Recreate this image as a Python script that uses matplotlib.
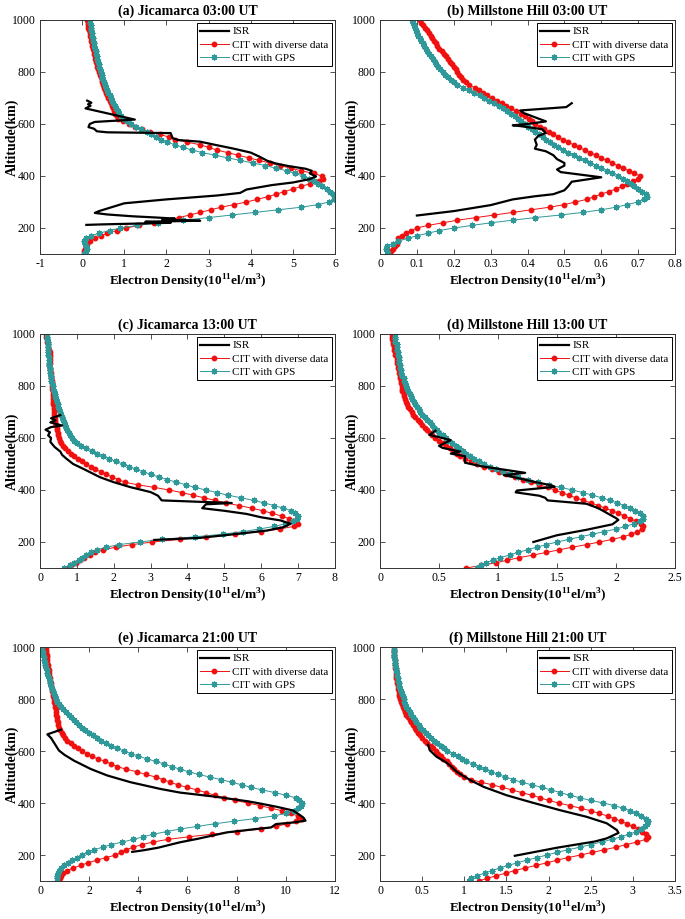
import numpy
import matplotlib
matplotlib.use('Agg')
import matplotlib.pyplot as plt
from matplotlib.ticker import FuncFormatter

plt.rcParams['font.family'] = 'Liberation Serif'
plt.rcParams['mathtext.fontset'] = 'custom'
plt.rcParams['mathtext.rm'] = 'Liberation Serif'
plt.rcParams['mathtext.bf'] = 'Liberation Serif:bold'
plt.rcParams['axes.unicode_minus'] = False

# altitude grid of the CIT profiles (km)
alt = numpy.arange(100, 1001, 10)

# ---------------- (a) Jicamarca 03:00 UT ----------------
jic03_diverse = [0.04, 0.05, 0.07, 0.09, 0.12, 0.18, 0.30, 0.45, 0.60, 0.82,
                 1.05, 1.35, 1.70, 2.00, 2.30, 2.55, 2.80, 3.05, 3.30, 3.60,
                 3.90, 4.15, 4.40, 4.60, 4.80, 5.00, 5.20, 5.40, 5.62, 5.72,
                 5.68, 5.50, 5.20, 4.95, 4.70, 4.45, 4.20, 3.95, 3.70, 3.45,
                 3.20, 3.00, 2.80, 2.50, 2.20, 2.05, 1.85, 1.60, 1.42, 1.25,
                 1.10, 0.96, 0.86, 0.82, 0.79, 0.76, 0.73, 0.70, 0.68, 0.65,
                 0.62, 0.60, 0.57, 0.55, 0.52, 0.50, 0.48, 0.46, 0.44, 0.42,
                 0.40, 0.38, 0.36, 0.35, 0.33, 0.31, 0.30, 0.28, 0.27, 0.26,
                 0.24, 0.23, 0.21, 0.20, 0.19, 0.18, 0.16, 0.15, 0.14, 0.13,
                 0.12]
jic03_gps = [0.05, 0.10, 0.12, 0.10, 0.06, 0.04, 0.10, 0.20, 0.40, 0.65,
             0.90, 1.30, 1.80, 2.40, 3.00, 3.55, 4.10, 4.65, 5.20, 5.60,
             5.85, 5.97, 6.00, 5.95, 5.88, 5.80, 5.70, 5.60, 5.50, 5.38,
             5.25, 5.05, 4.85, 4.60, 4.35, 4.05, 3.75, 3.45, 3.15, 2.85,
             2.60, 2.40, 2.20, 2.02, 1.87, 1.75, 1.64, 1.53, 1.40, 1.27,
             1.15, 1.06, 0.99, 0.93, 0.88, 0.84, 0.80, 0.77, 0.74, 0.71,
             0.68, 0.65, 0.62, 0.59, 0.56, 0.54, 0.52, 0.50, 0.48, 0.46,
             0.44, 0.42, 0.41, 0.39, 0.38, 0.36, 0.35, 0.33, 0.32, 0.30,
             0.29, 0.28, 0.26, 0.25, 0.24, 0.23, 0.22, 0.21, 0.20, 0.19,
             0.18]
jic03_isr_ne = [0.12, 0.22, 0.14, 0.20, 0.08, 1.25, 0.30, 0.18, 0.15, 0.28, 0.35, 0.60,
                2.10, 2.15, 2.30, 2.80, 3.15, 3.60, 4.00, 4.20, 4.40, 4.60, 4.90, 5.30,
                5.45, 5.40, 5.55, 5.40, 5.00, 4.50, 3.90, 3.75, 3.20, 2.00, 1.00, 0.70,
                0.40, 0.30, 0.60, 1.20, 1.80, 2.20, 1.90, 2.80, 1.50, 2.10, 0.50, 0.10]
jic03_isr_alt = [690, 682, 676, 670, 660, 617, 608, 600, 588, 582, 572, 568,
                 565, 545, 538, 532, 520, 505, 490, 475, 458, 448, 438, 428,
                 420, 410, 398, 388, 375, 365, 348, 335, 325, 310, 295, 280,
                 265, 258, 252, 245, 240, 236, 232, 228, 224, 220, 214, 212]

# ---------------- (b) Millstone Hill 03:00 UT ----------------
mil03_diverse = [0.025, 0.030, 0.035, 0.040, 0.045, 0.050, 0.050, 0.060, 0.070, 0.085,
                 0.100, 0.130, 0.170, 0.210, 0.260, 0.310, 0.360, 0.410, 0.460, 0.500,
                 0.530, 0.560, 0.580, 0.600, 0.620, 0.640, 0.655, 0.670, 0.685, 0.700,
                 0.705, 0.690, 0.675, 0.660, 0.645, 0.630, 0.615, 0.600, 0.585, 0.570,
                 0.555, 0.540, 0.525, 0.510, 0.495, 0.483, 0.470, 0.458, 0.445, 0.433,
                 0.420, 0.413, 0.405, 0.394, 0.382, 0.369, 0.356, 0.343, 0.330, 0.317,
                 0.303, 0.290, 0.279, 0.268, 0.257, 0.241, 0.232, 0.226, 0.220, 0.215,
                 0.210, 0.205, 0.200, 0.194, 0.189, 0.184, 0.179, 0.173, 0.167, 0.161,
                 0.155, 0.151, 0.146, 0.141, 0.137, 0.132, 0.127, 0.122, 0.117, 0.112,
                 0.108]
mil03_gps = [0.022, 0.018, 0.015, 0.020, 0.035, 0.050, 0.075, 0.100, 0.130, 0.160,
             0.200, 0.250, 0.300, 0.360, 0.420, 0.490, 0.550, 0.600, 0.640, 0.670,
             0.700, 0.715, 0.725, 0.720, 0.710, 0.700, 0.690, 0.680, 0.670, 0.660,
             0.645, 0.630, 0.615, 0.600, 0.585, 0.570, 0.555, 0.540, 0.525, 0.510,
             0.495, 0.484, 0.473, 0.462, 0.451, 0.441, 0.431, 0.421, 0.411, 0.401,
             0.392, 0.383, 0.374, 0.365, 0.355, 0.345, 0.334, 0.322, 0.309, 0.296,
             0.283, 0.270, 0.255, 0.240, 0.225, 0.210, 0.201, 0.192, 0.184, 0.177,
             0.170, 0.162, 0.158, 0.153, 0.148, 0.143, 0.138, 0.133, 0.128, 0.124,
             0.120, 0.116, 0.112, 0.108, 0.104, 0.101, 0.098, 0.095, 0.092, 0.089,
             0.086]
mil03_isr_ne = [0.52, 0.505, 0.38, 0.39, 0.45, 0.40, 0.36, 0.38, 0.44, 0.45, 0.43, 0.42,
                0.425, 0.42, 0.45, 0.47, 0.48, 0.50, 0.50, 0.48, 0.49, 0.60, 0.52, 0.51,
                0.50, 0.47, 0.42, 0.36, 0.30, 0.20, 0.10]
mil03_isr_alt = [680, 665, 652, 642, 610, 600, 595, 592, 580, 565, 555, 540,
                 520, 505, 495, 480, 465, 450, 440, 425, 415, 395, 378, 360,
                 345, 330, 322, 310, 288, 265, 248]

# ---------------- (c) Jicamarca 13:00 UT ----------------
jic13_diverse = [0.75, 0.85, 0.97, 1.08, 1.20, 1.35, 1.50, 1.72, 2.05, 2.50,
                 3.05, 3.80, 4.50, 5.30, 6.00, 6.50, 6.88, 7.00, 6.90, 6.75,
                 6.55, 6.30, 6.05, 5.75, 5.40, 5.05, 4.75, 4.45, 4.15, 3.85,
                 3.50, 3.10, 2.65, 2.30, 2.12, 1.95, 1.80, 1.65, 1.50, 1.37,
                 1.25, 1.14, 1.04, 0.93, 0.84, 0.76, 0.69, 0.63, 0.58, 0.55,
                 0.52, 0.50, 0.48, 0.46, 0.45, 0.43, 0.42, 0.41, 0.40, 0.39,
                 0.38, 0.37, 0.37, 0.36, 0.36, 0.35, 0.35, 0.34, 0.34, 0.33,
                 0.33, 0.33, 0.32, 0.31, 0.30, 0.29, 0.28, 0.26, 0.25, 0.26,
                 0.28, 0.28, 0.27, 0.26, 0.25, 0.23, 0.21, 0.20, 0.18, 0.16,
                 0.15]
jic13_gps = [0.65, 0.80, 0.92, 1.05, 1.15, 1.25, 1.38, 1.55, 1.80, 2.15,
             2.70, 3.30, 4.20, 4.95, 5.50, 5.95, 6.35, 6.65, 6.85, 6.97,
             7.00, 6.92, 6.80, 6.60, 6.35, 6.08, 5.80, 5.45, 5.10, 4.80,
             4.50, 4.20, 3.95, 3.70, 3.45, 3.22, 3.00, 2.80, 2.60, 2.42,
             2.25, 2.05, 1.88, 1.70, 1.55, 1.40, 1.25, 1.10, 1.00, 0.93,
             0.87, 0.82, 0.78, 0.74, 0.71, 0.68, 0.65, 0.62, 0.60, 0.57,
             0.55, 0.52, 0.50, 0.48, 0.46, 0.44, 0.42, 0.40, 0.38, 0.36,
             0.34, 0.32, 0.31, 0.30, 0.29, 0.28, 0.27, 0.26, 0.25, 0.25,
             0.24, 0.24, 0.23, 0.23, 0.22, 0.22, 0.21, 0.21, 0.20, 0.20,
             0.20]
jic13_isr_ne = [0.55, 0.30, 0.42, 0.28, 0.60, 0.30, 0.15, 0.27, 0.22, 0.30, 0.28, 0.40,
                0.55, 0.60, 0.72, 0.90, 1.18, 1.63, 2.00, 2.45, 3.00, 3.20, 3.30, 5.20,
                4.50, 4.40, 5.00, 5.60, 6.00, 6.52, 6.80, 6.60, 6.15, 5.40, 4.35, 3.10]
jic13_isr_alt = [688, 676, 668, 660, 648, 642, 632, 622, 610, 600, 585, 565,
                 548, 535, 520, 500, 481, 449, 430, 411, 392, 378, 360, 350,
                 345, 330, 320, 308, 295, 283, 270, 257, 244, 232, 216, 208]

# ---------------- (d) Millstone Hill 13:00 UT ----------------
mil13_diverse = [0.73, 0.86, 0.98, 1.08, 1.18, 1.30, 1.41, 1.52, 1.63, 1.75,
                 1.86, 1.97, 2.06, 2.13, 2.18, 2.22, 2.23, 2.21, 2.17, 2.12,
                 2.07, 2.02, 1.97, 1.91, 1.85, 1.79, 1.72, 1.66, 1.60, 1.54,
                 1.48, 1.42, 1.35, 1.28, 1.21, 1.14, 1.07, 1.01, 0.95, 0.88,
                 0.82, 0.77, 0.72, 0.68, 0.65, 0.62, 0.59, 0.56, 0.53, 0.50,
                 0.47, 0.44, 0.42, 0.40, 0.38, 0.36, 0.34, 0.32, 0.30, 0.28,
                 0.27, 0.25, 0.24, 0.23, 0.22, 0.21, 0.20, 0.20, 0.19, 0.19,
                 0.19, 0.18, 0.18, 0.17, 0.17, 0.16, 0.16, 0.15, 0.15, 0.14,
                 0.14, 0.14, 0.13, 0.13, 0.12, 0.12, 0.11, 0.11, 0.10, 0.10,
                 0.10]
mil13_gps = [0.82, 0.86, 0.90, 0.96, 1.02, 1.10, 1.17, 1.25, 1.33, 1.41,
             1.50, 1.60, 1.70, 1.80, 1.90, 2.00, 2.08, 2.15, 2.20, 2.23,
             2.23, 2.20, 2.16, 2.12, 2.07, 2.01, 1.95, 1.88, 1.80, 1.72,
             1.63, 1.53, 1.43, 1.34, 1.25, 1.17, 1.10, 1.04, 0.98, 0.93,
             0.88, 0.84, 0.80, 0.76, 0.73, 0.70, 0.67, 0.64, 0.61, 0.58,
             0.56, 0.53, 0.50, 0.48, 0.46, 0.44, 0.42, 0.40, 0.38, 0.36,
             0.34, 0.33, 0.31, 0.30, 0.29, 0.27, 0.26, 0.25, 0.24, 0.23,
             0.22, 0.21, 0.20, 0.20, 0.19, 0.18, 0.18, 0.17, 0.17, 0.16,
             0.16, 0.16, 0.15, 0.15, 0.14, 0.14, 0.14, 0.13, 0.13, 0.13,
             0.13]
mil13_isr_ne = [0.47, 0.42, 0.60, 0.50, 0.53, 0.68, 0.60, 0.72, 0.72, 0.85, 1.23, 1.05,
                1.15, 1.30, 1.46, 1.48, 1.16, 1.15, 1.35, 1.40, 1.42, 1.75, 1.85, 2.00,
                2.02, 1.97, 1.75, 1.50, 1.30]
mil13_isr_alt = [628, 612, 592, 570, 562, 548, 540, 530, 505, 492, 466, 457,
                 448, 432, 417, 412, 398, 391, 378, 370, 360, 347, 330, 292,
                 285, 268, 247, 226, 200]

# ---------------- (e) Jicamarca 21:00 UT ----------------
jic21_diverse = [0.77, 0.80, 0.84, 0.95, 1.10, 1.35, 1.65, 1.95, 2.30, 2.70,
                 3.07, 3.30, 3.50, 3.80, 4.15, 4.60, 5.20, 6.05, 7.00, 8.00,
                 9.00, 9.60, 10.05, 10.40, 10.65, 10.50, 10.20, 9.85, 9.40, 8.95,
                 8.45, 7.95, 7.50, 7.10, 6.75, 6.40, 6.00, 5.60, 5.30, 5.00,
                 4.70, 4.30, 3.95, 3.50, 3.15, 2.90, 2.65, 2.35, 2.10, 1.90,
                 1.70, 1.55, 1.40, 1.25, 1.10, 1.00, 0.93, 0.88, 0.82, 0.78,
                 0.75, 0.73, 0.71, 0.69, 0.67, 0.66, 0.64, 0.62, 0.60, 0.58,
                 0.56, 0.54, 0.52, 0.50, 0.48, 0.46, 0.44, 0.42, 0.40, 0.38,
                 0.36, 0.35, 0.33, 0.32, 0.30, 0.29, 0.28, 0.27, 0.26, 0.25,
                 0.24]
jic21_gps = [0.68, 0.68, 0.70, 0.73, 0.77, 0.86, 0.97, 1.12, 1.30, 1.50,
             1.70, 1.95, 2.20, 2.55, 2.90, 3.35, 3.80, 4.20, 4.60, 5.15,
             5.70, 6.40, 7.10, 7.90, 8.75, 9.50, 10.00, 10.35, 10.50, 10.60,
             10.65, 10.55, 10.40, 10.00, 9.55, 9.05, 8.60, 8.20, 7.80, 7.35,
             6.90, 6.45, 6.05, 5.70, 5.35, 5.05, 4.70, 4.35, 4.00, 3.70,
             3.40, 3.15, 2.90, 2.70, 2.50, 2.32, 2.15, 2.00, 1.85, 1.72,
             1.60, 1.48, 1.38, 1.27, 1.16, 1.06, 0.95, 0.85, 0.77, 0.70,
             0.64, 0.59, 0.55, 0.51, 0.48, 0.45, 0.42, 0.39, 0.36, 0.33,
             0.30, 0.27, 0.25, 0.22, 0.20, 0.18, 0.16, 0.14, 0.12, 0.10,
             0.08]
jic21_isr_ne = [0.85, 0.30, 0.45, 0.65, 0.77, 1.00, 1.38, 2.06, 2.73, 3.68, 4.90, 5.70,
                7.06, 8.42, 8.90, 9.60, 10.30, 10.70, 10.80, 10.30, 9.60, 9.40, 8.80, 7.60,
                6.40, 5.70, 4.80, 4.20, 3.75]
jic21_isr_alt = [682, 664, 650, 620, 602, 585, 563, 531, 506, 480, 454, 440,
                 425, 407, 399, 386, 371, 345, 332, 325, 319, 306, 300, 287,
                 262, 249, 228, 218, 212]

# ---------------- (f) Millstone Hill 21:00 UT ----------------
mil21_diverse = [1.17, 1.27, 1.38, 1.49, 1.60, 1.72, 1.85, 1.98, 2.10, 2.23,
                 2.38, 2.52, 2.66, 2.80, 2.92, 3.05, 3.15, 3.18, 3.15, 3.11,
                 3.06, 3.00, 2.93, 2.86, 2.78, 2.70, 2.60, 2.50, 2.38, 2.25,
                 2.12, 2.00, 1.90, 1.80, 1.68, 1.57, 1.45, 1.33, 1.20, 1.08,
                 1.00, 0.95, 0.91, 0.88, 0.85, 0.82, 0.79, 0.75, 0.72, 0.69,
                 0.66, 0.63, 0.60, 0.56, 0.53, 0.50, 0.47, 0.45, 0.43, 0.41,
                 0.39, 0.37, 0.35, 0.33, 0.31, 0.30, 0.28, 0.27, 0.26, 0.25,
                 0.24, 0.23, 0.22, 0.22, 0.21, 0.21, 0.20, 0.20, 0.19, 0.19,
                 0.19, 0.19, 0.18, 0.18, 0.18, 0.18, 0.17, 0.17, 0.17, 0.17,
                 0.17]
mil21_gps = [1.05, 1.08, 1.15, 1.24, 1.33, 1.42, 1.52, 1.63, 1.74, 1.86,
             1.98, 2.10, 2.23, 2.37, 2.50, 2.63, 2.75, 2.86, 2.96, 3.04,
             3.10, 3.14, 3.17, 3.18, 3.15, 3.10, 3.04, 2.97, 2.88, 2.78,
             2.65, 2.50, 2.37, 2.25, 2.14, 2.03, 1.92, 1.80, 1.68, 1.58,
             1.48, 1.40, 1.32, 1.25, 1.17, 1.10, 1.02, 0.97, 0.92, 0.87,
             0.80, 0.76, 0.72, 0.68, 0.64, 0.60, 0.57, 0.54, 0.51, 0.48,
             0.46, 0.43, 0.41, 0.39, 0.37, 0.35, 0.33, 0.31, 0.30, 0.29,
             0.28, 0.27, 0.26, 0.25, 0.24, 0.23, 0.22, 0.21, 0.21, 0.20,
             0.20, 0.19, 0.19, 0.18, 0.18, 0.18, 0.17, 0.17, 0.17, 0.17,
             0.17]
mil21_isr_ne = [0.57, 0.59, 0.67, 0.77, 0.83, 0.91, 1.07, 1.23, 1.50, 1.78, 2.14, 2.45,
                2.69, 2.81, 2.83, 2.69, 2.55, 2.10, 1.60]
mil21_isr_alt = [624, 603, 578, 559, 545, 520, 488, 462, 430, 404, 372, 347,
                 322, 296, 285, 264, 252, 228, 197]

titles = ['(a) Jicamarca 03:00 UT', '(b) Millstone Hill 03:00 UT',
          '(c) Jicamarca 13:00 UT', '(d) Millstone Hill 13:00 UT',
          '(e) Jicamarca 21:00 UT', '(f) Millstone Hill 21:00 UT']
xlims = [(-1, 6), (0, 0.8), (0, 8), (0, 2.5), (0, 12), (0, 3.5)]
xticks = [[-1, 0, 1, 2, 3, 4, 5, 6],
          [0, 0.1, 0.2, 0.3, 0.4, 0.5, 0.6, 0.7, 0.8],
          [0, 1, 2, 3, 4, 5, 6, 7, 8],
          [0, 0.5, 1, 1.5, 2, 2.5],
          [0, 2, 4, 6, 8, 10, 12],
          [0, 0.5, 1, 1.5, 2, 2.5, 3, 3.5]]

panels = [(jic03_isr_ne, jic03_isr_alt, jic03_diverse, jic03_gps),
          (mil03_isr_ne, mil03_isr_alt, mil03_diverse, mil03_gps),
          (jic13_isr_ne, jic13_isr_alt, jic13_diverse, jic13_gps),
          (mil13_isr_ne, mil13_isr_alt, mil13_diverse, mil13_gps),
          (jic21_isr_ne, jic21_isr_alt, jic21_diverse, jic21_gps),
          (mil21_isr_ne, mil21_isr_alt, mil21_diverse, mil21_gps)]

red = '#f01010'
teal = '#2f9898'

fig = plt.figure(figsize=(6.85, 9.19), dpi=100)

lefts = [40 / 685, 380 / 685]
bottoms = [1 - 254 / 919, 1 - 568 / 919, 1 - 881 / 919]
w = 295 / 685
h = 234 / 919

for i in range(6):
    ax = fig.add_axes([lefts[i % 2], bottoms[i // 2], w, h])
    isr_ne, isr_alt, cit_div, cit_gps = panels[i]
    ax.plot(isr_ne, isr_alt, color='black', lw=1.6, label='ISR', zorder=3)
    ax.plot(cit_div, alt, color=red, lw=0.7, marker='o', ms=3.2,
            mec=red, mfc=red, label='CIT with diverse data', zorder=2)
    ax.plot(cit_gps, alt, color=teal, lw=0.7, marker=(8, 2, 0), ms=4.2,
            mew=0.9, mec=teal, label='CIT with GPS', zorder=2)

    ax.set_xlim(*xlims[i])
    ax.set_ylim(100, 1000)
    ax.set_xticks(xticks[i])
    ax.set_yticks([200, 400, 600, 800, 1000])
    ax.xaxis.set_major_formatter(FuncFormatter(lambda v, p: '%g' % v))
    ax.tick_params(direction='in', top=True, right=True, length=3.5,
                   width=0.6, labelsize=8.5, pad=3, color='#333333')
    for sp in ax.spines.values():
        sp.set_linewidth(0.7)
        sp.set_color('#333333')

    ax.set_title(titles[i], fontsize=10, fontweight='bold', pad=4)
    ax.set_ylabel('Altitude(km)', fontsize=10, fontweight='bold')
    ax.yaxis.set_label_coords(-0.072, 0.5)
    ax.set_xlabel(r'Electron Density(10$^{\mathbf{11}}$el/m$^{\mathbf{3}}$)',
                  fontsize=9.5, fontweight='bold', labelpad=2)

    leg = ax.legend(loc='upper right', fontsize=8, handlelength=2.6,
                    borderaxespad=0.3, borderpad=0.3, labelspacing=0.3,
                    handletextpad=0.3, fancybox=False, framealpha=1)
    leg.get_frame().set_edgecolor('black')
    leg.get_frame().set_linewidth(0.7)

fig.savefig('out.png', dpi=100)
